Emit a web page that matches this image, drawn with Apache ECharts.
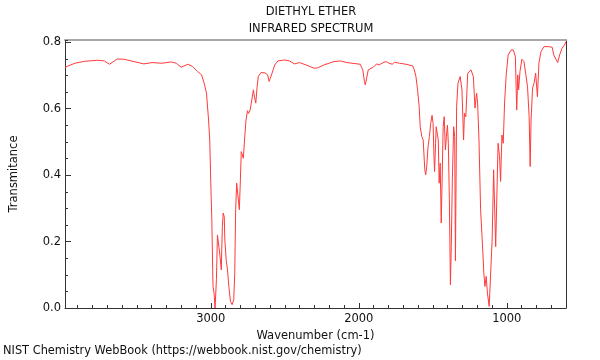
<!DOCTYPE html>
<html><head><meta charset="utf-8">
<script src="https://cdn.jsdelivr.net/npm/echarts@6/dist/echarts.min.js"></script>
<style>html,body{margin:0;padding:0;background:#fff}#c{width:600px;height:360px}</style>
</head><body><div id="c"></div>
<script>
const titleLines = ['DIETHYL ETHER', 'INFRARED SPECTRUM'];
const xName = 'Wavenumber (cm-1)';
const yName = 'Transmitance';
const footer = 'NIST Chemistry WebBook (https://webbook.nist.gov/chemistry)';
const xMajorTicks = [1000, 2000, 3000];
const yTicks = [0.0, 0.2, 0.4, 0.6, 0.8];

const wavenumber = [3985,3918,3852,3763,3719,3685,3630,3586,3519,3452,3397,3331,3266,3233,3200,3155,3122,3089,3062,3045,3029,3015,3007,3000,2993,2985,2978,2971,2962,2955,2949,2940,2929,2922,2916,2909,2905,2896,2887,2878,2867,2856,2845,2838,2832,2825,2818,2807,2800,2794,2787,2780,2772,2762,2752,2745,2734,2723,2712,2705,2696,2687,2679,2661,2634,2616,2606,2599,2586,2568,2546,2501,2468,2435,2401,2357,2302,2279,2235,2168,2124,2080,1991,1973,1962,1956,1947,1936,1902,1880,1862,1836,1814,1796,1785,1774,1758,1725,1681,1636,1625,1614,1603,1592,1585,1574,1565,1554,1548,1541,1532,1523,1514,1505,1498,1492,1488,1481,1477,1470,1463,1457,1450,1443,1437,1430,1423,1415,1408,1401,1395,1388,1381,1375,1368,1359,1352,1347,1339,1330,1315,1303,1292,1286,1277,1264,1242,1226,1215,1204,1197,1188,1177,1166,1155,1148,1139,1131,1119,1111,1099,1089,1075,1059,1049,1042,1033,1024,1015,1004,991,971,956,942,933,926,920,911,898,884,871,860,849,842,836,826,816,805,793,783,769,749,716,693,683,671,656,643,627,610,600];
const transmittance = [0.725,0.737,0.743,0.746,0.744,0.734,0.750,0.749,0.742,0.735,0.739,0.737,0.741,0.737,0.725,0.734,0.727,0.712,0.702,0.677,0.647,0.566,0.506,0.377,0.266,0.065,0.046,0.0,0.085,0.220,0.220,0.166,0.115,0.245,0.286,0.275,0.205,0.145,0.115,0.065,0.020,0.010,0.025,0.105,0.296,0.376,0.376,0.296,0.386,0.471,0.461,0.451,0.506,0.566,0.594,0.586,0.596,0.626,0.657,0.636,0.617,0.666,0.697,0.709,0.708,0.702,0.682,0.677,0.707,0.732,0.744,0.747,0.744,0.735,0.739,0.732,0.722,0.723,0.732,0.742,0.744,0.739,0.734,0.717,0.682,0.672,0.692,0.717,0.725,0.735,0.732,0.739,0.742,0.737,0.742,0.734,0.740,0.737,0.734,0.729,0.717,0.697,0.657,0.606,0.546,0.516,0.506,0.416,0.401,0.426,0.486,0.516,0.556,0.580,0.556,0.456,0.411,0.496,0.546,0.541,0.506,0.376,0.436,0.256,0.386,0.546,0.576,0.476,0.516,0.551,0.496,0.326,0.070,0.185,0.386,0.546,0.516,0.142,0.606,0.677,0.697,0.657,0.506,0.586,0.576,0.707,0.717,0.697,0.602,0.647,0.617,0.506,0.296,0.205,0.105,0.065,0.095,0.045,0.005,0.0,0.205,0.416,0.185,0.496,0.456,0.381,0.521,0.496,0.617,0.702,0.762,0.777,0.777,0.757,0.596,0.702,0.657,0.712,0.749,0.742,0.702,0.666,0.576,0.426,0.566,0.662,0.677,0.707,0.636,0.737,0.772,0.787,0.787,0.785,0.762,0.767,0.739,0.762,0.782,0.792,0.802];

const data = wavenumber.map((w, i) => [w, transmittance[i]]);
const X_MIN = 600, X_MAX = 3985, Y_MIN = 0, Y_MAX = 0.807;
const FONT = 'DejaVu Sans';
const FS = 11.5;
const axisDark = '#333';

const chart = echarts.init(document.getElementById('c'), null, {renderer: 'canvas'});
chart.setOption({
  animation: false,
  backgroundColor: '#fff',
  title: [{
    text: titleLines.join('\n'),
    left: 311, top: 4, textAlign: 'center', padding: 0,
    textStyle: {fontFamily: FONT, fontSize: FS, fontWeight: 'normal', color: '#111', lineHeight: 17}
  }, {
    text: footer, left: 3, top: 346, padding: 0,
    textStyle: {fontFamily: FONT, fontSize: 11.4, fontWeight: 'normal', color: '#111'}
  }],
  grid: {left: 57, top: 40, width: 509, height: 268, containLabel: false},
  xAxis: [{
    type: 'value', inverse: true, min: X_MIN, max: X_MAX,
    position: 'bottom',
    name: xName, nameLocation: 'middle', nameGap: 18,
    nameTextStyle: {fontFamily: FONT, fontSize: FS, color: '#111'},
    splitLine: {show: false},
    axisLine: {show: true, onZero: false, lineStyle: {color: axisDark, width: 1}},
    axisTick: {show: true, inside: true, length: 5, customValues: xMajorTicks, lineStyle: {color: axisDark}},
    axisLabel: {show: true, customValues: xMajorTicks, margin: 5, fontFamily: FONT, fontSize: FS, color: '#111',
      formatter: v => String(v)}
  }, {
    type: 'value', inverse: true, min: X_MIN, max: X_MAX, interval: 100,
    position: 'bottom',
    splitLine: {show: false},
    axisLine: {show: false},
    axisTick: {show: true, inside: true, length: 3, lineStyle: {color: axisDark}},
    axisLabel: {show: false}
  }, {
    type: 'value', inverse: true, min: X_MIN, max: X_MAX,
    position: 'top',
    splitLine: {show: false},
    axisLine: {show: true, onZero: false, lineStyle: {color: '#a8a8a8', width: 2}},
    axisTick: {show: false},
    axisLabel: {show: false}
  }],
  yAxis: [{
    type: 'value', min: Y_MIN, max: Y_MAX, interval: 0.2,
    position: 'left',
    name: yName, nameLocation: 'middle', nameGap: 45,
    nameTextStyle: {fontFamily: FONT, fontSize: FS, color: '#111'},
    splitLine: {show: false},
    axisLine: {show: true, onZero: false, lineStyle: {color: axisDark, width: 1}},
    axisTick: {show: true, inside: true, length: 6, customValues: yTicks, lineStyle: {color: axisDark}},
    minorTick: {show: false},
    axisLabel: {show: true, customValues: yTicks, margin: 4, fontFamily: FONT, fontSize: FS, color: '#111',
      formatter: v => v.toFixed(1)}
  }, {
    type: 'value', min: Y_MIN, max: Y_MAX, interval: 0.05,
    position: 'left',
    splitLine: {show: false},
    axisLine: {show: false},
    axisTick: {show: true, inside: true, length: 3, lineStyle: {color: axisDark}},
    axisLabel: {show: false}
  }, {
    type: 'value', min: Y_MIN, max: Y_MAX,
    position: 'right',
    splitLine: {show: false},
    axisLine: {show: true, onZero: false, lineStyle: {color: axisDark, width: 1}},
    axisTick: {show: false},
    axisLabel: {show: false}
  }],
  series: [{
    type: 'line', xAxisIndex: 0, yAxisIndex: 0,
    data: data, showSymbol: false, symbol: 'none',
    lineStyle: {color: '#ff3a3a', width: 1},
    clip: true
  }]
});
</script>
</body></html>
